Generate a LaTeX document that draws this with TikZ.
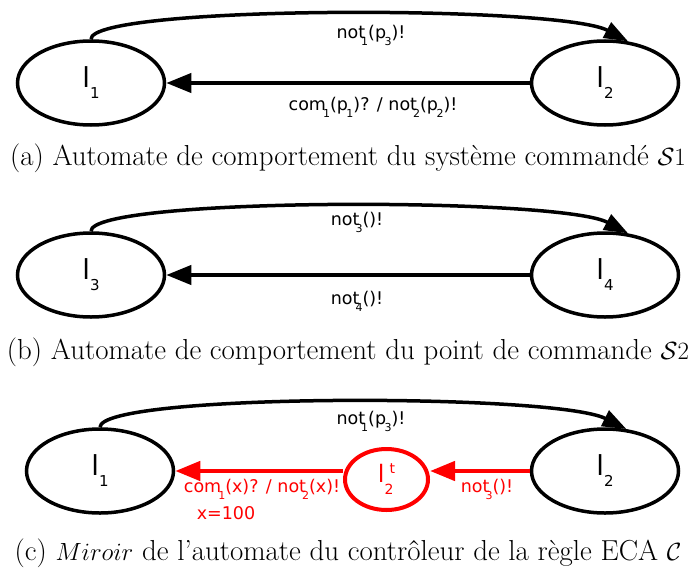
\documentclass[tikz,border=0pt]{standalone}
\usepackage{fontspec}
\newfontfamily\dvs{DejaVu Sans}
\usetikzlibrary{shapes.geometric,arrows.meta}
\newcommand\sbx[2][-4pt]{\kern#1\raisebox{-7pt}{\fontsize{11}{11}\selectfont #2}}
\newcommand\stl[1]{{\fontsize{27.5}{27.5}\selectfont l}\raisebox{-11pt}{\fontsize{15}{15}\selectfont #1}}
\begin{document}
\begin{tikzpicture}[x=1pt,y=-1pt,
  st/.style={ellipse,draw,line width=3.5pt,minimum width=147pt,minimum height=84pt,inner sep=0pt,font=\dvs},
  lab/.style={font=\dvs\fontsize{17.5}{17.5}\selectfont,inner sep=0pt},
  tr/.style={line width=4pt,-{Triangle[length=25pt,width=19pt]}},
  arcs/.style={line width=3.5pt,-{Triangle[length=24pt,width=17pt]}},
  captext/.style={font=\fontsize{28.9}{32}\selectfont,inner sep=0pt}]
\useasboundingbox (0,0) rectangle (692,575);
% (a)
\node[st] (l1) at (91,83) {\stl{1}};
\node[st] (l2) at (605,83) {\stl{2}};
\draw[arcs] (l1.north) .. controls (90,5) and (560,5) .. (l2.61);
\draw[tr] (l2.west) -- (l1.east);
\node[lab] (ta) at (371,35) {not\sbx{1}(p\sbx[-1.5pt]{3})!};
\node[lab] (tb) at (373,107) {com\sbx[-3pt]{1}(p\sbx[-1.5pt]{1})? / not\sbx{2}(p\sbx[-1.5pt]{2})!};
\node[captext] (ca) at (348,158) {(a) Automate de comportement du système commandé $\mathcal{S}1$};
% (b)
\node[st] (l3) at (91,275) {\stl{3}};
\node[st] (l4) at (605,275) {\stl{4}};
\draw[arcs] (l3.north) .. controls (90,197) and (560,197) .. (l4.61);
\draw[tr] (l4.west) -- (l3.east);
\node[lab] (tc) at (357,222) {not\sbx{3}()!};
\node[lab] (td) at (357,301) {not\sbx{4}()!};
\node[captext] (cb) at (348,352) {(b) Automate de comportement du point de commande $\mathcal{S}2$};
% (c)
\node[st] (m1) at (100,471) {\stl{1}};
\node[st] (m2) at (605,471) {\stl{2}};
\node[ellipse,draw=red,text=red,line width=4pt,minimum width=83pt,minimum height=61pt,inner sep=0pt,font=\dvs] (lt) at (386.5,479.5)
  {{\fontsize{24}{24}\selectfont l}\rlap{\raisebox{-12pt}{\fontsize{14}{14}\selectfont 2}}\kern5pt\raisebox{9pt}{\fontsize{14}{14}\selectfont t}};
\draw[arcs] (m1.north) .. controls (100,393) and (555,393) .. (m2.63);
\draw[tr,red,line width=4.5pt] (m2.west) -- (m2.west -| lt.east);
\draw[tr,red,line width=4.5pt] (lt.west |- m1.east) -- (m1.east);
\node[lab] (te) at (371,421) {not\sbx{1}(p\sbx[-1.5pt]{3})!};
\node[lab,text=red] (tf) at (262,489) {com\sbx[-3pt]{1}(x)? / not\sbx{2}(x)!};
\node[lab,text=red] (tg) at (226,513) {x=100};
\node[lab,text=red] (th) at (487,489) {not\sbx{3}()!};
\node[captext] (cc) at (348,553) {(c) $Miroir$ de l'automate du contrôleur de la règle ECA $\mathcal{C}$};
\end{tikzpicture}
\end{document}
